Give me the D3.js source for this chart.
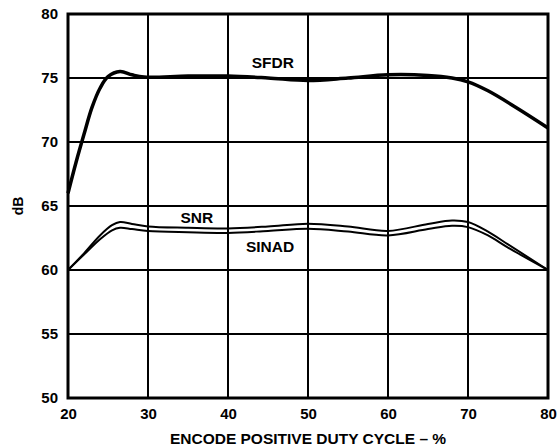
<!DOCTYPE html>
<html>
<head>
<meta charset="utf-8">
<script src="https://cdn.jsdelivr.net/npm/d3@7"></script>
<style>
  html, body { margin: 0; padding: 0; background: #fff; }
  svg { display: block; }
  text { font-family: "Liberation Sans", Arial, Helvetica, sans-serif; font-weight: bold; fill: #000; }
</style>
</head>
<body>
<svg id="chart" width="560" height="446"></svg>
<script>
// Encode duty cycle (%) sample points
const sfdrDuty = [20, 21, 22, 23, 24, 25, 26.5, 28, 29.5, 35, 40, 45, 50, 55, 60, 65, 68, 70, 72.5, 76, 80];
const sfdrDb   = [66.0, 68.4, 70.6, 72.7, 74.2, 75.1, 75.5, 75.25, 75.08, 75.15, 75.15, 75.0, 74.8, 75.0, 75.25, 75.2, 75.0, 74.7, 74.0, 72.7, 71.1];

const snrDuty = [20, 22, 24, 25.5, 26.5, 28, 30, 35, 40, 45, 50, 55, 60, 65, 68, 70, 72.5, 75, 80];
const snrDb   = [60.0, 61.3, 62.7, 63.5, 63.75, 63.6, 63.4, 63.3, 63.25, 63.4, 63.62, 63.4, 63.05, 63.6, 63.87, 63.75, 63.0, 62.0, 60.0];
const sinadDb = [60.0, 61.2, 62.4, 63.1, 63.3, 63.2, 63.05, 62.95, 62.9, 63.05, 63.22, 63.0, 62.7, 63.2, 63.45, 63.35, 62.7, 61.75, 60.0];

const xTicks = [20, 30, 40, 50, 60, 70, 80];
const yTicks = [50, 55, 60, 65, 70, 75, 80];

const seriesLabels = [
  { text: "SFDR",  x: 45.6, y: 76.25 },
  { text: "SNR",   x: 36.1, y: 64.1 },
  { text: "SINAD", x: 45.25, y: 61.8 }
];

const svg = d3.select("#chart");
const margin = { left: 68, right: 12, top: 14, bottom: 48 };
const W = 560, H = 446;

const x = d3.scaleLinear().domain([20, 80]).range([margin.left, W - margin.right]);
const y = d3.scaleLinear().domain([50, 80]).range([H - margin.bottom, margin.top]);

// grid
const grid = svg.append("g");
grid.selectAll("line.v").data(xTicks.slice(1, -1)).join("line")
  .attr("x1", d => x(d)).attr("x2", d => x(d))
  .attr("y1", y(50)).attr("y2", y(80))
  .attr("stroke", "#000").attr("stroke-width", 2);
grid.selectAll("line.h").data(yTicks.slice(1, -1)).join("line")
  .attr("x1", x(20)).attr("x2", x(80))
  .attr("y1", d => y(d)).attr("y2", d => y(d))
  .attr("stroke", "#000").attr("stroke-width", 2);

// axes (labels only; frame drawn separately)
const xAxis = d3.axisBottom(x).tickValues(xTicks).tickSize(0).tickPadding(10);
const gx = svg.append("g").attr("transform", `translate(0,${y(50)})`).call(xAxis);
gx.select(".domain").remove();
gx.selectAll("text").attr("font-size", 15).style("font-family", "'Liberation Sans', Arial, sans-serif").style("font-weight", "bold");

const yAxis = d3.axisLeft(y).tickValues(yTicks).tickSize(0).tickPadding(10);
const gy = svg.append("g").attr("transform", `translate(${x(20)},0)`).call(yAxis);
gy.select(".domain").remove();
gy.selectAll("text").attr("font-size", 15).style("font-family", "'Liberation Sans', Arial, sans-serif").style("font-weight", "bold");

// frame
svg.append("rect")
  .attr("x", x(20)).attr("y", y(80))
  .attr("width", x(80) - x(20)).attr("height", y(50) - y(80))
  .attr("fill", "none").attr("stroke", "#000").attr("stroke-width", 3);

// curves
const line = d3.line().curve(d3.curveCatmullRom.alpha(0.5));
const toPts = (xs, ys) => xs.map((d, i) => [x(d), y(ys[i])]);

svg.append("path").attr("d", line(toPts(snrDuty, snrDb)))
  .attr("fill", "none").attr("stroke", "#000").attr("stroke-width", 2);
svg.append("path").attr("d", line(toPts(snrDuty, sinadDb)))
  .attr("fill", "none").attr("stroke", "#000").attr("stroke-width", 2);
svg.append("path").attr("d", line(toPts(sfdrDuty, sfdrDb)))
  .attr("fill", "none").attr("stroke", "#000").attr("stroke-width", 3.5);

// series labels
svg.selectAll("text.series").data(seriesLabels).join("text")
  .attr("class", "series")
  .attr("x", d => x(d.x)).attr("y", d => y(d.y))
  .attr("text-anchor", "middle").attr("dominant-baseline", "central")
  .attr("font-size", 15.5)
  .text(d => d.text);

// axis titles
svg.append("text")
  .attr("x", (x(20) + x(80)) / 2).attr("y", 438)
  .attr("text-anchor", "middle").attr("dominant-baseline", "central")
  .attr("font-size", 15.5)
  .text("ENCODE POSITIVE DUTY CYCLE – %");

svg.append("text")
  .attr("transform", `translate(18,${(y(50) + y(80)) / 2}) rotate(-90)`)
  .attr("text-anchor", "middle").attr("dominant-baseline", "central")
  .attr("font-size", 14)
  .text("dB");
</script>
</body>
</html>
